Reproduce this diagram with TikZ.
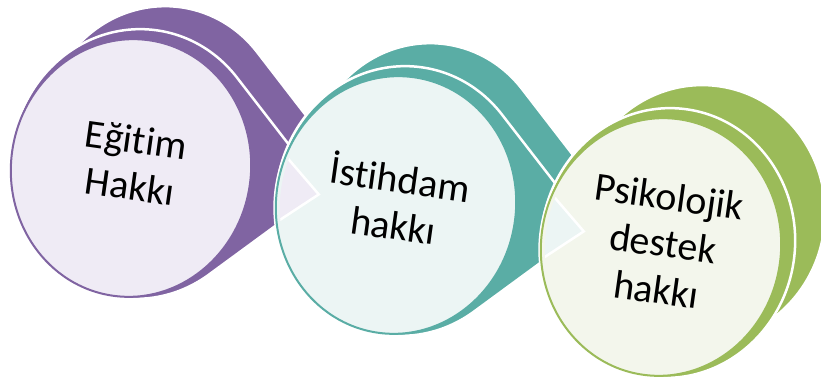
\documentclass[tikz,border=0pt]{standalone}
\usepackage{fontspec}
\setmainfont{Carlito}[Ligatures=CommonOff]
\usetikzlibrary{calc}
\definecolor{purpdark}{HTML}{8064A2}
\definecolor{purplight}{HTML}{EFEBF5}
\definecolor{tealdark}{HTML}{5AADA5}
\definecolor{teallight}{HTML}{ECF5F4}
\definecolor{greendark}{HTML}{9BBB59}
\definecolor{greenlight}{HTML}{F3F6EC}

% teardrop: unit circle with a point at (#1,0)
\newcommand{\droppath}[1]{(#1,0) -- ({acos(1/#1)}:1) arc[start angle={acos(1/#1)}, end angle={360-acos(1/#1)}, radius=1] -- cycle}

\tikzset{
  dropdark/.style={fill=#1, draw=white, line width=2.5pt},
  facerim/.style={draw=white, line width=5pt},
  faceface/.style={fill=#1, line width=2pt},
  circtext/.style={font=\fontsize{40}{47}\selectfont, align=center, rotate=-8, inner sep=0pt},
}

\begin{document}
\begin{tikzpicture}[x=1pt, y=1pt]
  \useasboundingbox (0,0) rectangle (821,378);

  % Egitim
  \path[dropdark=purpdark, shift={(163,243)}, rotate=-8, xscale=121, yscale=129] \droppath{1.48};
  \path[dropdark=purpdark, shift={(138,214)}, rotate=-8, xscale=127, yscale=135] \droppath{1.48};
  \path[faceface=purplight, draw=purpdark, shift={(131,210)}, rotate=-8, xscale=120, yscale=129] (0,0) circle[radius=1];

  % Istihdam
  \path[facerim, shift={(396,173)}, rotate=-8, xscale=120, yscale=129] (0,0) circle[radius=1];
  \path[dropdark=tealdark, shift={(428,206)}, rotate=-8, xscale=121, yscale=129] \droppath{1.48};
  \path[dropdark=tealdark, shift={(403,177)}, rotate=-8, xscale=127, yscale=135] \droppath{1.48};
  \path[faceface=teallight, draw=tealdark, shift={(396,173)}, rotate=-8, xscale=120, yscale=129] (0,0) circle[radius=1];

  % tip of the first drop
  \begin{scope}
    \clip[shift={(396,173)}, rotate=-8, xscale=116, yscale=125] (0,0) circle[radius=1];
    \path[dropdark=purplight, shift={(131,210)}, rotate=-8, xscale=120, yscale=129] \droppath{1.58};
  \end{scope}

  % Psikolojik destek
  \path[facerim, shift={(661,131)}, rotate=-8, xscale=120, yscale=129] (0,0) circle[radius=1];
  \path[dropdark=greendark, shift={(701,164)}, rotate=-8, xscale=124, yscale=129] (0,0) circle[radius=1];
  \path[dropdark=greendark, shift={(668,135)}, rotate=-8, xscale=127, yscale=135] (0,0) circle[radius=1];
  \path[faceface=greenlight, draw=greendark, shift={(661,131)}, rotate=-8, xscale=120, yscale=129] (0,0) circle[radius=1];

  % tip of the second drop
  \begin{scope}
    \clip[shift={(661,131)}, rotate=-8, xscale=116, yscale=125] (0,0) circle[radius=1];
    \path[dropdark=teallight, shift={(396,173)}, rotate=-8, xscale=120, yscale=129] \droppath{1.58};
  \end{scope}

  % labels
  \node[circtext] (egitim) at (133,215) {Eğitim\\Hakkı};
  \node[circtext] (istihdam) at (397,178) {İstihdam\\hakkı};
  \node[circtext] (psikolojik) at (663,135) {Psikolojik\\destek\\hakkı};
\end{tikzpicture}
\end{document}
